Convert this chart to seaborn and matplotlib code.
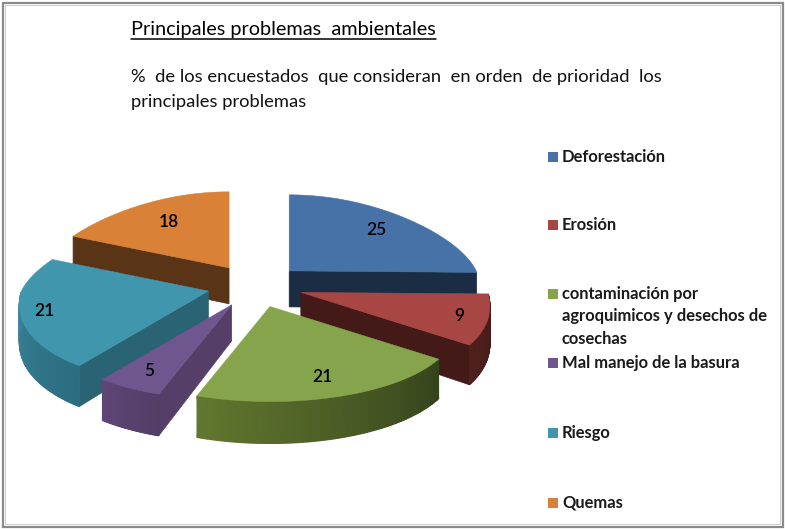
import numpy as np
import matplotlib
matplotlib.use('Agg')
import matplotlib.pyplot as plt
from matplotlib.patches import Polygon, Rectangle
from matplotlib.colors import LinearSegmentedColormap
import seaborn as sns

categories = ['Deforestación', 'Erosión',
              'contaminación por\nagroquimicos y desechos de\ncosechas',
              'Mal manejo de la basura', 'Riesgo', 'Quemas']
values = [25, 9, 21, 5, 21, 18]

top_colors = ['#4672a8', '#a84644', '#86a44b', '#70568f', '#4096ad', '#da8138']
cut_colors = ['#1b2d45', '#441a19', '#3b491f', '#553f69', '#2a6373', '#5a3416']
arc_light = ['#2a4468', '#4f201e', '#62782f', '#5f4676', '#418ea5', '#6a3f1c']
arc_dark = ['#1b2d45', '#441a19', '#35431c', '#533d67', '#2c6d80', '#5a3416']
label_r = [0.76, 0.85, 0.78, 0.80, 0.87, 0.72]
legend_y = [158, 226, 295, 364, 434, 504]

# posicion de la torta en pixeles
CX, CY = 255, 286
RADIUS = 187
EXPLODE = 48

sns.set_theme(style='white')
plt.rcParams['font.family'] = ['Lato', 'DejaVu Sans']

fig = plt.figure(figsize=(7.85, 5.29), dpi=100)
ax = fig.add_axes([0, 0, 1, 1])


def project(theta, r=1.0):
    # angulo en grados, horario desde arriba; el frente se ve mas grande
    t = np.radians(theta)
    c = np.cos(t)
    widen = 1 - 0.2 * np.maximum(c, 0) + 0.15 * np.maximum(-c, 0)
    ry = np.where(c > 0, 76, 95)
    return r * RADIUS * np.sin(t) * widen, -r * ry * c


def depth(theta):
    return 37 - 5 * np.cos(np.radians(theta))


total = sum(values)
edges = np.concatenate([[0], np.cumsum(values)]) * 360 / total
mids = (edges[:-1] + edges[1:]) / 2

# primero las porciones de atras
order = sorted(range(len(values)), key=lambda i: -np.cos(np.radians(mids[i])))
for pos, i in enumerate(order):
    t0, t1, tm = edges[i], edges[i + 1], np.radians(mids[i])
    ax0 = CX + EXPLODE * np.sin(tm)
    ay0 = CY - EXPLODE * 0.45 * np.cos(tm)
    thetas = np.linspace(t0, t1, 80)
    px, py = project(thetas)
    px, py = ax0 + px, ay0 + py
    z = 2 + pos * 3

    # caras de corte visibles
    for th, normal in ((t0, t0 - 90), (t1, t1 + 90)):
        if np.cos(np.radians(normal)) < -1e-6:
            ex, ey = project(th)
            ax.add_patch(Polygon([(ax0, ay0), (ax0 + ex, ay0 + ey),
                                  (ax0 + ex, ay0 + ey + depth(th)), (ax0, ay0 + 36)],
                                 fc=cut_colors[i], ec=cut_colors[i], lw=0.5, zorder=z))

    # borde exterior con degradado
    arc = thetas[(thetas >= 90) & (thetas <= 270)]
    if len(arc) > 1:
        qx, qy = project(arc)
        qx, qy = ax0 + qx, ay0 + qy
        X = np.vstack([qx, qx])
        Y = np.vstack([qy, qy + depth(arc)])
        C = np.vstack([arc, arc])
        cmap = LinearSegmentedColormap.from_list('arc', [arc_dark[i], arc_light[i]])
        ax.pcolormesh(X, Y, C, shading='gouraud', cmap=cmap, vmin=t0, vmax=t1, zorder=z)

    # cara superior
    ax.add_patch(Polygon(np.column_stack([np.r_[ax0, px], np.r_[ay0, py]]),
                         fc=top_colors[i], ec=top_colors[i], lw=0.4, zorder=z + 1))

    lx, ly = project(mids[i], label_r[i])
    ax.text(ax0 + lx, ay0 + ly, str(values[i]), ha='center', va='center',
            fontsize=12.5, fontweight='semibold', color='black', zorder=40)

# marco
ax.add_patch(Rectangle((2.5, 2.5), 780, 524, fc='none', ec='#8a8a8a', lw=1.6, zorder=50))
ax.add_patch(Rectangle((5, 5), 775, 519, fc='none', ec='#c4c4c4', lw=0.6, zorder=50))

# titulos
ax.text(131, 30, 'Principales problemas  ambientales', ha='left', va='center',
        fontsize=14.3, color='black')
ax.plot([131, 436], [38.5, 38.5], color='black', lw=1.1)
ax.text(131, 77, '%  de los encuestados  que consideran  en orden  de prioridad  los',
        ha='left', va='center', fontsize=13.2, color='#111111')
ax.text(131, 102, 'principales problemas', ha='left', va='center', fontsize=13.2, color='#111111')

# leyenda
for name, col, y in zip(categories, top_colors, legend_y):
    ax.add_patch(Rectangle((548, y - 6), 10, 10, fc=col, ec='none'))
    ax.text(562, y - 9, name, ha='left', va='top', fontsize=11.9, fontweight='bold',
            color='#1a1a1a', linespacing=1.5)

ax.set_xlim(0, 785)
ax.set_ylim(529, 0)
ax.axis('off')

fig.savefig('out.png', dpi=100, facecolor='white')
